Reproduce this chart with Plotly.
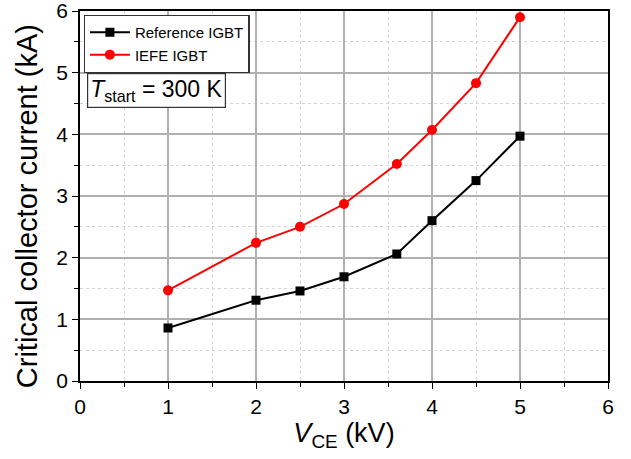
import plotly.graph_objects as go

vce = [1, 2, 2.5, 3, 3.6, 4, 4.5, 5]
ref_igbt = [0.86, 1.31, 1.46, 1.69, 2.06, 2.60, 3.25, 3.97]
iefe_igbt = [1.47, 2.24, 2.50, 2.87, 3.52, 4.07, 4.83, 5.90]
x_ticks = [0, 1, 2, 3, 4, 5, 6]
y_ticks = [0, 1, 2, 3, 4, 5, 6]

FONT = "Arial, Liberation Sans"

fig = go.Figure()
fig.add_trace(go.Scatter(x=vce, y=ref_igbt, mode="lines+markers", name="Reference IGBT",
                         line=dict(color="black", width=2),
                         marker=dict(symbol="square", size=9, color="black")))
fig.add_trace(go.Scatter(x=vce, y=iefe_igbt, mode="lines+markers", name="IEFE IGBT",
                         line=dict(color="#ff0000", width=2),
                         marker=dict(symbol="circle", size=10, color="#ff0000")))

axis_common = dict(
    showline=True, linecolor="black", linewidth=1.5, mirror=True,
    ticks="outside", ticklen=6, tickwidth=1.2, tickcolor="black",
    showgrid=True, gridcolor="#b0b0b0", gridwidth=1.5,
    zeroline=False, automargin=False, ticklabeloverflow="allow",
    tickfont=dict(family=FONT, size=21, color="black"),
    minor=dict(dtick=0.5, ticks="outside", ticklen=4, tickcolor="black",
               showgrid=True, gridcolor="#d4d4d4", griddash="dot", gridwidth=1),
)

fig.update_xaxes(range=[0, 6], tickvals=x_ticks, **axis_common,
                 title=dict(text="<i>V</i><sub>CE</sub> (kV)",
                            font=dict(family=FONT, size=27, color="black"),
                            standoff=6))
fig.update_yaxes(range=[0, 6], tickvals=y_ticks, **axis_common)

fig.add_annotation(xref="paper", yref="paper", x=-0.1, y=0.473, xanchor="center", yanchor="middle",
                   text="Critical collector current (kA)", textangle=-90, showarrow=False,
                   font=dict(family=FONT, size=29, color="black"))

fig.add_annotation(xref="paper", yref="paper", x=0.013, y=0.832, xanchor="left", yanchor="top",
                   text="<i>T</i><sub>start</sub> = 300 K", showarrow=False,
                   font=dict(family=FONT, size=23, color="black"),
                   bordercolor="#333", borderwidth=1.2, borderpad=2, bgcolor="white")

fig.update_layout(
    width=631, height=459,
    margin=dict(l=80, r=23, t=11, b=78),
    plot_bgcolor="white", paper_bgcolor="white",
    font=dict(family=FONT, color="black"),
    legend=dict(x=0.007, y=0.99, xanchor="left", yanchor="top",
                bordercolor="#333", borderwidth=1.2, bgcolor="white",
                font=dict(family=FONT, size=15, color="black"),
                tracegroupgap=0, itemwidth=40),
    showlegend=True,
)

fig.write_html("out.html")
